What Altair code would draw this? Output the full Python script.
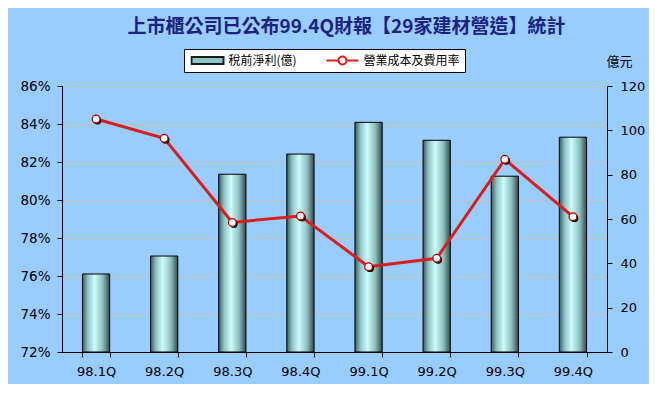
import altair as alt
import pandas as pd

# ---- data ----
quarters = ["98.1Q", "98.2Q", "98.3Q", "98.4Q", "99.1Q", "99.2Q", "99.3Q", "99.4Q"]
profit = [35.2, 43.3, 80.2, 89.3, 103.6, 95.5, 79.3, 96.9]          # 稅前淨利(億) – right axis
ratio = [84.26, 83.25, 78.82, 79.16, 76.49, 76.93, 82.14, 79.12]     # 營業成本及費用率 (%) – left axis
series_names = ["稅前淨利(億)", "營業成本及費用率"]
left_ticks = [72, 74, 76, 78, 80, 82, 84, 86]
right_ticks = [0, 20, 40, 60, 80, 100, 120]
title_text = "上市櫃公司已公布99.4Q財報【29家建材營造】統計"
right_unit = "億元"

df = pd.DataFrame({"quarter": quarters, "profit": profit, "ratio": ratio})
leg_df = pd.DataFrame({"series": series_names})

FONT = "DejaVu Sans"
CJK = "Noto Sans CJK TC"

xscale = alt.Scale(type="band", domain=quarters, paddingInner=0.6, paddingOuter=0.3)
x_axis = alt.Axis(title=None, labelAngle=0, tickBand="extent", grid=False,
                  labelFont=FONT, labelFontSize=13, labelColor="black",
                  tickColor="black", tickSize=5, domainColor="black",
                  labelPadding=8)
x_enc = alt.X("quarter:N", sort=quarters, scale=xscale, axis=x_axis)

bar_gradient = alt.Gradient(
    gradient="linear", x1=0, y1=0, x2=1, y2=0,
    stops=[alt.GradientStop(color="#3A5C5C", offset=0),
           alt.GradientStop(color="#8FC4C4", offset=0.2),
           alt.GradientStop(color="#CFFBFB", offset=0.45),
           alt.GradientStop(color="#8CBDBD", offset=0.75),
           alt.GradientStop(color="#2F4B4B", offset=1)])

bars = alt.Chart(df).mark_bar(fill=bar_gradient, stroke="black", strokeWidth=1).encode(
    x=x_enc,
    y=alt.Y("profit:Q", scale=alt.Scale(domain=[0, 120], nice=False, zero=True),
            axis=alt.Axis(orient="right", values=right_ticks, grid=False,
                          title=right_unit, titleAngle=0, titleX=12, titleY=-25,
                          titleAlign="center", titleBaseline="middle",
                          titleFont=CJK, titleFontSize=13, titleFontWeight="normal",
                          titleColor="black",
                          labelFont=FONT, labelFontSize=13, labelColor="black",
                          tickSize=5, tickColor="black", domainColor="black",
                          labelPadding=8)),
)

yscale_ratio = alt.Scale(domain=[72, 86], nice=False, zero=False)
y_axis_left = alt.Axis(orient="left", values=left_ticks, labelExpr="datum.value + '%'",
                       grid=True, gridColor="#C0C0C0", gridWidth=1, title=None,
                       labelFont=FONT, labelFontSize=13.5, labelColor="black",
                       tickSize=5, tickColor="black", domainColor="black",
                       labelPadding=7)
y_ratio = alt.Y("ratio:Q", scale=yscale_ratio, axis=y_axis_left)

line = alt.Chart(df).mark_line(color="#D91E1E", strokeWidth=3).encode(x=x_enc, y=y_ratio)

shadow = alt.Chart(df).mark_point(filled=True, color="black", size=60, opacity=1,
                                  xOffset=1.5, yOffset=1.5).encode(x=x_enc, y=y_ratio)

points = alt.Chart(df).mark_point(filled=True, fill="white", stroke="#B00000",
                                  strokeWidth=1.3, size=60, opacity=1).encode(x=x_enc, y=y_ratio)

line_group = alt.layer(line, shadow, points)

rect_path = "M-1,-0.22H1V0.22H-1Z"
line_path = "M-1,0H-0.25A0.25,0.25 0 1,1 0.25,0H1M0.25,0A0.25,0.25 0 1,1 -0.25,0"

leg = alt.Legend(orient="none", legendX=122, legendY=-37, direction="horizontal",
                 fillColor="white", strokeColor="black", padding=4.5,
                 symbolSize=1024, clipHeight=14, symbolStrokeWidth=2, symbolOpacity=1,
                 labelFont=CJK, labelFontSize=12, labelColor="black", labelOffset=4,
                 labelBaseline="middle",
                 labelExpr="datum.label == '營業成本及費用率' ? datum.label + '\u3000' : datum.label",
                 columnPadding=28,
                 title="\u3000", titleOrient="left", titleFontSize=8, titlePadding=2)

legend_layer = alt.Chart(leg_df).mark_point(filled=True).encode(
    fill=alt.Fill("series:N", scale=alt.Scale(domain=series_names, range=["#8FC7C7", "white"]), legend=leg),
    stroke=alt.Stroke("series:N", scale=alt.Scale(domain=series_names, range=["#1A1A1A", "#D91E1E"]), legend=leg),
    shape=alt.Shape("series:N", scale=alt.Scale(domain=series_names, range=[rect_path, line_path]), legend=leg),
).transform_filter("false")

chart = alt.layer(bars, line_group, legend_layer).resolve_scale(y="independent").properties(
    width=545, height=266,
    autosize=alt.AutoSizeParams(type="none"),
    padding={"left": 54, "top": 78, "right": 42, "bottom": 32},
    background="#99CCFF",
    title=alt.TitleParams(text=title_text, font=CJK, fontSize=19, fontWeight="bold",
                          color="#1B237E", anchor="middle", frame="group", dx=12, offset=12),
).configure_view(stroke="#808080", fill="white", strokeWidth=1)

chart.save("out.html", embed_options={"renderer": "svg", "actions": False})
